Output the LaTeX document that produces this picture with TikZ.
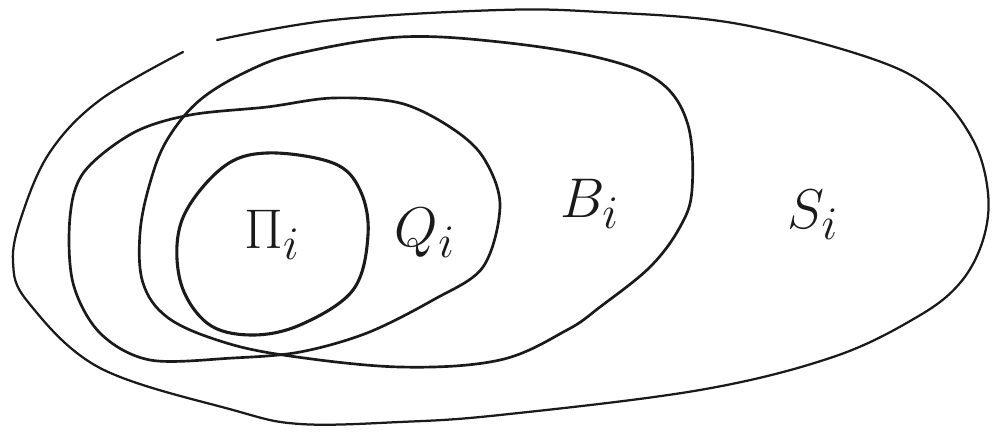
\documentclass[tikz,border=0pt]{standalone}
\usepackage{amsmath,amssymb}
\usepackage{xcolor}
\definecolor{inkblack}{HTML}{1a1a1a}

\begin{document}
\begin{tikzpicture}[x=0.025cm, y=-0.025cm,
    setline/.style={inkblack, line width=1.9pt, line join=round, line cap=round},
    setlabel/.style={inkblack, font=\Huge, scale=1.6, transform shape}]
  % page frame, in pixels of the sketch
  \useasboundingbox (0,0) rectangle (1002,439);

  % S_i: outer loop, left open at the top
  \draw[setline, line width=1.6pt] plot[smooth, tension=0.6] coordinates {
    (183,52) (100,100) (50,152) (22,215) (13,262) (28,302)
    (100,368) (233,410) (300,424) (400,422) (500,415)
    (700,390) (833,357) (917,317) (960,283) (983,240)
    (988,193) (973,140) (933,90) (867,57) (733,23) (600,12)
    (500,10) (333,20) (217,40)};

  % B_i
  \draw[setline] plot[smooth cycle, tension=0.6] coordinates {
    (400,37) (500,42) (600,58) (660,82) (688,125) (692,190)
    (680,227) (650,267) (600,307) (567,330) (500,360) (400,367)
    (283,355) (217,340) (167,317) (143,283) (140,233) (150,183)
    (167,140) (200,100) (250,70) (300,53)};

  % Q_i
  \draw[setline] plot[smooth cycle, tension=0.55] coordinates {
    (333,98) (400,103) (450,127) (483,157) (500,205)
    (483,267) (433,300) (367,333) (300,352) (233,358) (150,360)
    (100,333) (73,283) (70,217) (84,172) (133,133)
    (190,115) (267,107)};

  % Pi_i
  \draw[setline, line width=2.2pt] plot[smooth cycle, tension=0.6] coordinates {
    (267,153) (333,163) (360,190) (368,235) (353,290)
    (300,325) (250,335) (207,323) (180,280)
    (182,220) (222,168)};

  % labels
  \node[setlabel] (lblPi) at (272,235) {$\Pi_i$};
  \node[setlabel] (lblQ)  at (425,233) {$Q_i$};
  \node[setlabel] (lblB)  at (590,204) {$B_i$};
  \node[setlabel] (lblS)  at (813,215) {$S_i$};
\end{tikzpicture}
\end{document}
